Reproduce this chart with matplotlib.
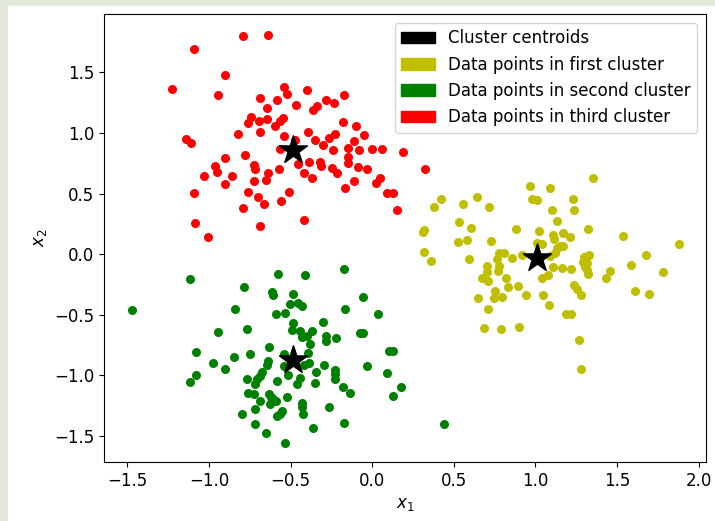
import numpy as np
import matplotlib
matplotlib.use("Agg")
import matplotlib.pyplot as plt
import matplotlib.patches as mpatches

plt.rcParams["font.size"] = 12

# cluster 1 (yellow)
x_first = [1.351, 0.966, 1.090, 0.423, 0.378, 0.639, 0.557, 0.717, 0.976, 1.010,
           1.231, 1.237, 1.100, 1.133, 0.531, 0.604, 0.315, 0.882, 1.021, 1.321,
           1.166, 1.211, 1.105, 1.113, 1.539, 0.527, 0.580, 0.727, 1.007, 1.043,
           1.149, 1.170, 1.129, 1.119, 1.878, 0.318, 0.359, 0.592, 0.776, 0.808,
           0.765, 0.776, 0.768, 0.857, 0.915, 1.086, 1.676, 1.296, 1.329, 1.292,
           1.313, 1.303, 1.317, 1.323, 0.704, 0.704, 1.109, 1.160, 1.215, 1.584,
           1.784, 1.458, 1.435, 0.670, 0.710, 0.819, 1.078, 1.041, 0.831, 0.890,
           1.237, 1.252, 1.278, 0.753, 0.747, 0.794, 0.649, 0.941, 1.045, 1.607,
           1.693, 0.707, 1.080, 1.190, 1.219, 0.684, 0.790, 0.898, 1.268, 1.278,
           0.312]
y_first = [0.625, 0.565, 0.545, 0.455, 0.391, 0.471, 0.411, 0.391, 0.452, 0.444,
           0.455, 0.364, 0.364, 0.275, 0.262, 0.212, 0.196, 0.204, 0.190, 0.209,
           0.176, 0.140, 0.155, 0.126, 0.149, 0.097, 0.113, 0.105, 0.093, 0.083,
           0.066, 0.066, 0.047, 0.006, 0.080, 0.014, -0.055, -0.044, 0.011, 0.011,
           -0.041, -0.097, -0.138, -0.030, -0.003, -0.017, -0.008, -0.022, -0.003, -0.063,
           -0.072, -0.105, -0.132, -0.160, -0.099, -0.146, -0.105, -0.118, -0.124, -0.088,
           -0.151, -0.140, -0.201, -0.201, -0.221, -0.201, -0.174, -0.201, -0.270, -0.264,
           -0.256, -0.287, -0.339, -0.306, -0.366, -0.355, -0.361, -0.339, -0.341, -0.306,
           -0.333, -0.449, -0.421, -0.498, -0.493, -0.612, -0.620, -0.603, -0.711, -0.950,
           0.184]

# cluster 2 (green)
x_second = [-1.115, -0.579, -0.410, -0.171, -0.786, -0.616, -0.608, -0.484, -0.504, -0.457,
            -0.429, -0.057, -0.839, -0.592, -0.533, -0.167, 0.037, -0.487, -0.302, -0.943,
            -0.769, -0.490, -0.443, -0.371, -0.432, -0.402, -0.285, -0.285, -0.222, -0.075,
            -0.059, -0.382, -1.081, -0.634, -0.747, -0.849, -0.539, -0.396, 0.100, 0.129,
            -0.974, -0.904, -0.637, -0.643, -0.539, -0.386, -0.418, -0.294, -0.032, -1.080,
            -1.115, -0.675, -0.690, -0.704, -0.716, -0.769, -0.584, -0.514, -0.443, -0.463,
            -0.343, -0.349, -0.227, -0.227, -0.230, 0.088, -0.178, -0.137, 0.176, 0.125,
            -0.759, -0.722, -0.633, -0.620, -0.606, -0.590, -0.688, -0.626, -0.524, -0.432,
            -0.429, -0.422, -0.263, -0.716, -0.800, -0.551, -0.565, -0.584, -0.175, -0.718,
            -0.361, -0.651, -0.535, 0.439, -1.471]
y_second = [-0.204, -0.163, -0.171, -0.124, -0.273, -0.314, -0.336, -0.325, -0.413, -0.407,
            -0.427, -0.353, -0.455, -0.496, -0.490, -0.457, -0.498, -0.568, -0.562, -0.642,
            -0.622, -0.628, -0.636, -0.636, -0.683, -0.678, -0.678, -0.719, -0.694, -0.647,
            -0.647, -0.738, -0.804, -0.769, -0.824, -0.849, -0.821, -0.816, -0.799, -0.799,
            -0.895, -0.950, -0.882, -0.917, -0.923, -0.898, -0.917, -0.912, -0.923, -0.994,
            -1.058, -0.973, -1.006, -1.033, -1.069, -1.027, -1.044, -1.000, -1.019, -1.072,
            -0.973, -1.061, -0.959, -0.992, -1.027, -0.983, -1.094, -1.146, -1.099, -1.174,
            -1.143, -1.151, -1.157, -1.179, -1.193, -1.212, -1.212, -1.234, -1.179, -1.229,
            -1.262, -1.317, -1.262, -1.281, -1.317, -1.298, -1.317, -1.339, -1.394, -1.402,
            -1.435, -1.474, -1.559, -1.399, -0.463]

# cluster 3 (red)
x_third = [-0.794, -0.637, -1.090, -0.902, -1.225, -0.943, -0.543, -0.524, -0.402, -0.690,
           -0.585, -0.645, -0.469, -0.365, -0.339, -0.282, -0.233, -0.171, -0.743, -0.763,
           -0.692, -0.645, -0.545, -0.565, -0.598, -0.178, -0.686, -0.824, -0.394, -0.539,
           -1.141, -1.108, -0.349, -0.267, -0.227, -0.300, -0.241, -0.563, -0.473, -0.453,
           -0.390, -0.418, -0.367, -0.320, -0.312, -0.245, -0.218, -0.900, -0.778, -0.961,
           -0.949, -1.033, -0.857, -0.723, -0.718, -0.637, -0.653, -0.724, -0.571, -0.902,
           -1.090, -0.761, -0.698, -0.661, -0.512, -0.561, -0.790, -1.086, -0.690, -0.418,
           -1.008, -0.165, -0.147, -0.147, -0.147, -0.100, -0.050, -0.110, -0.080, 0.000,
           0.060, 0.190, -0.090, -0.030, 0.047, 0.020, -0.110, 0.088, 0.129, 0.149,
           0.322]
y_third = [1.804, 1.810, 1.692, 1.477, 1.366, 1.317, 1.380, 1.322, 1.358, 1.289,
           1.275, 1.207, 1.231, 1.193, 1.221, 1.270, 1.248, 1.317, 1.135, 1.080,
           1.102, 1.113, 1.127, 1.099, 1.060, 1.093, 1.011, 0.989, 1.011, 0.973,
           0.953, 0.920, 0.942, 0.959, 0.992, 0.901, 0.860, 0.868, 0.942, 0.744,
           0.763, 0.672, 0.631, 0.763, 0.730, 0.708, 0.667, 0.796, 0.815, 0.727,
           0.680, 0.642, 0.642, 0.733, 0.702, 0.672, 0.609, 0.603, 0.700, 0.576,
           0.504, 0.512, 0.474, 0.416, 0.510, 0.438, 0.378, 0.254, 0.229, 0.279,
           0.140, 0.543, 0.873, 0.804, 0.750, 1.060, 0.980, 0.930, 0.860, 0.870,
           0.870, 0.840, 0.720, 0.700, 0.628, 0.590, 0.600, 0.507, 0.507, 0.364,
           0.702]

# centroids
x_centroids = [1.007, -0.487, -0.484]
y_centroids = [-0.030, -0.870, 0.860]

labels = ["Cluster centroids", "Data points in first cluster",
          "Data points in second cluster", "Data points in third cluster"]

fig = plt.figure(figsize=(7.15, 5.21), dpi=100)
# light page border seen in the screenshot
fig.patches.append(mpatches.Rectangle((0, 0), 8 / 715, 1, transform=fig.transFigure,
                                      facecolor="#e2e9dc", edgecolor="none", zorder=-1))
fig.patches.append(mpatches.Rectangle((0, 1 - 6 / 521), 1, 6 / 521, transform=fig.transFigure,
                                      facecolor="#e2e9dc", edgecolor="none", zorder=-1))

ax = fig.add_axes([104.3 / 715, 1 - 462 / 521, 601.4 / 715, 447.7 / 521])

ax.scatter(x_first, y_first, c="y", s=30)
ax.scatter(x_second, y_second, c="g", s=30)
ax.scatter(x_third, y_third, c="r", s=30)
ax.scatter(x_centroids, y_centroids, c="k", marker="*", s=450)

ax.set_xlim(-1.642, 2.043)
ax.set_ylim(-1.716, 1.98)
ax.set_xlabel(r"$x_1$")
ax.set_ylabel(r"$x_2$")

handles = [mpatches.Patch(color=c, label=l) for c, l in zip(["k", "y", "g", "r"], labels)]
ax.legend(handles=handles, loc="upper right")

plt.savefig("out.png", dpi=100)
